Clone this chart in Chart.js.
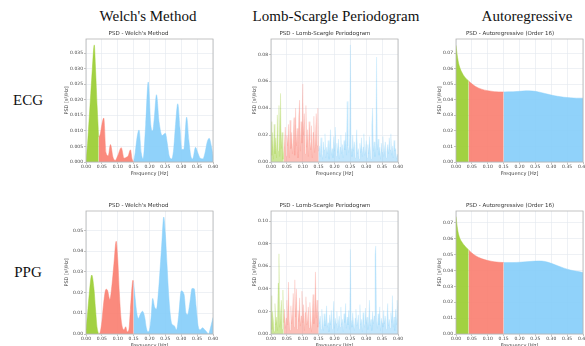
<!DOCTYPE html>
<html>
<head>
<meta charset="utf-8">
<script src="https://cdn.jsdelivr.net/npm/chart.js@4.4.0/dist/chart.umd.min.js"></script>
<style>
body{margin:0;width:585px;height:346px;overflow:hidden;background:#fff;position:relative;font-family:"Liberation Serif","Times New Roman",serif}
.head{position:absolute;font-size:15px;color:#111;transform:translate(-50%,-50%);white-space:nowrap}
canvas{position:absolute}
</style>
</head>
<body>
<div class="head" style="left:148px;top:16px">Welch's Method</div>
<div class="head" style="left:336px;top:16px">Lomb-Scargle Periodogram</div>
<div class="head" style="left:527px;top:16px">Autoregressive</div>
<div class="head" style="left:28px;top:100px">ECG</div>
<div class="head" style="left:28px;top:272px">PPG</div>

<canvas id="c1" width="155" height="147" style="left:64px;top:30px"></canvas>
<canvas id="c2" width="152" height="147" style="left:252px;top:30px"></canvas>
<canvas id="c3" width="152" height="147" style="left:437px;top:30px"></canvas>
<canvas id="c4" width="155" height="147" style="left:64px;top:202px"></canvas>
<canvas id="c5" width="152" height="147" style="left:252px;top:202px"></canvas>
<canvas id="c6" width="152" height="147" style="left:437px;top:202px"></canvas>

<script>
// frequency bands (Hz)
const bandNames = ['VLF', 'LF', 'HF'];
const bandEdges = [0, 0.04, 0.15, 0.40];

// Welch - ECG
const welchEcgFreq = [0, 0.005, 0.01, 0.015, 0.02, 0.026, 0.03, 0.035, 0.04, 0.045, 0.05, 0.056, 0.063, 0.07, 0.077, 0.085, 0.092, 0.10, 0.111, 0.12, 0.127, 0.133, 0.14, 0.145, 0.15, 0.155, 0.161, 0.167, 0.174, 0.18, 0.188, 0.196, 0.204, 0.21, 0.215, 0.222, 0.23, 0.24, 0.25, 0.256, 0.262, 0.27, 0.276, 0.282, 0.289, 0.296, 0.302, 0.308, 0.317, 0.324, 0.33, 0.336, 0.345, 0.352, 0.36, 0.368, 0.375, 0.382, 0.388, 0.395, 0.40];
const welchEcgPsd = [0.000, 0.006, 0.014, 0.022, 0.030, 0.0376, 0.030, 0.018, 0.008, 0.009, 0.012, 0.0141, 0.003, 0.002, 0.0056, 0.0015, 0.0005, 0.002, 0.0046, 0.0012, 0.0015, 0.002, 0.0039, 0.001, 0.0002, 0.003, 0.008, 0.0103, 0.003, 0.001, 0.012, 0.0257, 0.012, 0.010, 0.014, 0.0216, 0.013, 0.0085, 0.0092, 0.006, 0.002, 0.001, 0.004, 0.012, 0.0187, 0.011, 0.004, 0.004, 0.0144, 0.007, 0.002, 0.001, 0.0047, 0.003, 0.0012, 0.001, 0.003, 0.0065, 0.0076, 0.005, 0.002];

// Welch - PPG
const welchPpgFreq = [0, 0.005, 0.01, 0.018, 0.025, 0.03, 0.035, 0.04, 0.045, 0.05, 0.055, 0.063, 0.068, 0.075, 0.082, 0.088, 0.095, 0.10, 0.105, 0.11, 0.115, 0.12, 0.125, 0.13, 0.135, 0.14, 0.148, 0.15, 0.155, 0.16, 0.165, 0.171, 0.178, 0.185, 0.19, 0.195, 0.20, 0.205, 0.21, 0.216, 0.222, 0.23, 0.238, 0.245, 0.25, 0.255, 0.26, 0.265, 0.27, 0.278, 0.285, 0.292, 0.30, 0.309, 0.315, 0.32, 0.327, 0.334, 0.341, 0.347, 0.353, 0.36, 0.367, 0.374, 0.38, 0.386, 0.392, 0.40];
const welchPpgPsd = [0.002, 0.010, 0.019, 0.0285, 0.022, 0.012, 0.003, 0.000, 0.001, 0.006, 0.014, 0.0216, 0.021, 0.0167, 0.024, 0.034, 0.0448, 0.036, 0.020, 0.008, 0.003, 0.002, 0.0035, 0.001, 0.002, 0.012, 0.026, 0.025, 0.017, 0.010, 0.0075, 0.0095, 0.011, 0.008, 0.003, 0.001, 0.002, 0.008, 0.0172, 0.013, 0.012, 0.024, 0.042, 0.0565, 0.048, 0.034, 0.020, 0.010, 0.005, 0.004, 0.002, 0.009, 0.0208, 0.019, 0.010, 0.0094, 0.015, 0.022, 0.0218, 0.013, 0.004, 0.002, 0.003, 0.002, 0.001, 0.000, 0.003, 0.008];

// Lomb-Scargle sampling grid: 0 .. 0.40 Hz every 0.0025 Hz
const lombFreq = [];
for (let i = 0; i <= 160; i++) lombFreq.push(+(i * 0.0025).toFixed(4));

const lombEcgPsd = [
  0.030, 0.005, 0.022, 0.002, 0.028, 0.006, 0.018, 0.003, 0.035, 0.008, 0.042, 0.004, 0.051, 0.010, 0.022, 0.002, 0.008,
  0.015, 0.026, 0.004, 0.020, 0.012, 0.028, 0.003, 0.031, 0.010, 0.022, 0.006, 0.018, 0.033, 0.005, 0.040, 0.012, 0.025, 0.003, 0.034, 0.046, 0.008, 0.030,
  0.014, 0.058, 0.020, 0.036, 0.006, 0.042, 0.011, 0.024, 0.004, 0.030, 0.016, 0.009, 0.027, 0.003, 0.022, 0.034, 0.007, 0.019, 0.036, 0.012, 0.040, 0.008,
  0.012, 0.004, 0.018, 0.007, 0.002, 0.015, 0.009, 0.021, 0.003, 0.011,
  0.006, 0.016, 0.002, 0.013, 0.024, 0.005, 0.010, 0.003, 0.019, 0.008,
  0.026, 0.004, 0.014, 0.007, 0.017, 0.002, 0.011, 0.020, 0.006, 0.013,
  0.003, 0.016, 0.009, 0.022, 0.005, 0.045, 0.012, 0.007, 0.018, 0.087,
  0.010, 0.004, 0.020, 0.008, 0.015, 0.003, 0.012, 0.024, 0.006, 0.010,
  0.002, 0.014, 0.007, 0.018, 0.004, 0.011, 0.021, 0.005, 0.009, 0.016,
  0.003, 0.013, 0.006, 0.019, 0.010, 0.002, 0.028, 0.040, 0.008, 0.015,
  0.004, 0.012, 0.078, 0.009, 0.017, 0.005, 0.011, 0.002, 0.014, 0.007,
  0.019, 0.004, 0.010, 0.015, 0.003, 0.008, 0.013, 0.006, 0.018, 0.009,
  0.021, 0.005, 0.012, 0.003, 0.016, 0.008, 0.010, 0.002, 0.006, 0.004
];

const lombPpgPsd = [
  0.034, 0.004, 0.020, 0.012, 0.002, 0.027, 0.008, 0.015, 0.003, 0.045, 0.071, 0.006, 0.018, 0.030, 0.004, 0.039, 0.010,
  0.022, 0.005, 0.014, 0.030, 0.008, 0.046, 0.012, 0.003, 0.025, 0.009,
  0.018, 0.036, 0.006, 0.048, 0.015, 0.040, 0.004, 0.021, 0.011, 0.032,
  0.007, 0.016, 0.038, 0.010, 0.026, 0.003, 0.019, 0.033, 0.008, 0.013,
  0.024, 0.005, 0.028, 0.012, 0.002, 0.017, 0.035, 0.009, 0.021, 0.055,
  0.014, 0.030, 0.006, 0.020,
  0.009, 0.016, 0.004, 0.022, 0.011, 0.003, 0.018, 0.007, 0.013, 0.025,
  0.006, 0.010, 0.002, 0.017, 0.008, 0.021, 0.004, 0.012, 0.029, 0.005,
  0.014, 0.009, 0.020, 0.003, 0.011, 0.016, 0.006, 0.024, 0.008, 0.013,
  0.002, 0.018, 0.010, 0.027, 0.005, 0.015, 0.008, 0.021, 0.004, 0.075,
  0.012, 0.006, 0.019, 0.009, 0.003, 0.014, 0.022, 0.007, 0.011, 0.017,
  0.004, 0.026, 0.008, 0.013, 0.002, 0.019, 0.010, 0.006, 0.023, 0.009,
  0.015, 0.004, 0.011, 0.030, 0.007, 0.013, 0.003, 0.020, 0.009, 0.016,
  0.070, 0.078, 0.012, 0.005, 0.018, 0.008, 0.024, 0.003, 0.014, 0.010,
  0.006, 0.021, 0.009, 0.016, 0.004, 0.012, 0.027, 0.007, 0.013, 0.005,
  0.019, 0.010, 0.034, 0.006, 0.015, 0.003, 0.022, 0.008, 0.030, 0.011
];

// Autoregressive (order 16)
const arFreq = [0, 0.005, 0.01, 0.02, 0.03, 0.04, 0.05, 0.06, 0.08, 0.10, 0.12, 0.15, 0.18, 0.20, 0.22, 0.24, 0.26, 0.28, 0.30, 0.32, 0.34, 0.36, 0.38, 0.40];
const arEcgPsd = [0.075, 0.067, 0.062, 0.057, 0.054, 0.052, 0.0502, 0.0487, 0.0468, 0.0458, 0.0452, 0.0450, 0.0451, 0.0454, 0.0457, 0.0456, 0.0450, 0.0440, 0.0430, 0.0422, 0.0416, 0.0412, 0.0410, 0.0410];
const arPpgPsd = [0.0740, 0.066, 0.0615, 0.0575, 0.0550, 0.0530, 0.0510, 0.0495, 0.0475, 0.0463, 0.0455, 0.0450, 0.0450, 0.0452, 0.0455, 0.0458, 0.0460, 0.0457, 0.0445, 0.0430, 0.0415, 0.0403, 0.0395, 0.0388];

const bandColors = ['154,205,50', '250,128,114', '135,206,250'];
const textColor = '#444';
const gridColor = '#e3e8ee';

// box around the plot area (matplotlib style)
const framePlugin = {
  id: 'frame',
  afterDatasetsDraw(chart) {
    const { ctx, chartArea: a } = chart;
    ctx.save();
    ctx.strokeStyle = '#b5b5b5';
    ctx.lineWidth = 0.8;
    ctx.strokeRect(a.left, a.top, a.right - a.left, a.bottom - a.top);
    ctx.restore();
  }
};

function bandData(freq, psd, lo, hi) {
  const pts = [];
  freq.forEach((f, i) => {
    if (f >= lo - 1e-9 && f <= hi + 1e-9) pts.push({ x: f, y: psd[i] });
  });
  return pts;
}

function makeChart(id, title, freq, psd, yMax, yStep, yDec, yAxisW, style) {
  const lomb = style === 'lomb';
  const datasets = bandNames.map((name, b) => {
    const c = bandColors[b];
    return {
      label: name,
      data: bandData(freq, psd, bandEdges[b], bandEdges[b + 1]),
      fill: 'origin',
      backgroundColor: `rgba(${c},${lomb ? 0.5 : 0.92})`,
      borderColor: `rgba(${c},${lomb ? 0.35 : 0.92})`,
      borderWidth: lomb ? 0.5 : 0.5,
      pointRadius: 0,
      tension: lomb ? 0 : 0.4,
      cubicInterpolationMode: lomb ? 'default' : 'monotone'
    };
  });

  new Chart(document.getElementById(id), {
    type: 'line',
    data: { datasets: datasets },
    plugins: [framePlugin],
    options: {
      responsive: false,
      animation: false,
      layout: { padding: { left: 0, right: 6, top: 0, bottom: 0 } },
      plugins: {
        legend: { display: false },
        tooltip: { enabled: false },
        title: {
          display: true,
          text: title,
          color: '#333',
          font: { family: 'DejaVu Sans', size: 5.5, weight: 'normal' },
          padding: { top: 0.7, bottom: 1.7 }
        }
      },
      scales: {
        x: {
          type: 'linear',
          min: 0,
          max: 0.4,
          afterFit: (s) => { s.height = 15; },
          border: { display: false },
          grid: { color: gridColor, lineWidth: 0.6, tickLength: 2, tickColor: '#999' },
          ticks: {
            stepSize: 0.05,
            autoSkip: false,
            maxRotation: 0,
            padding: 0,
            color: textColor,
            font: { family: 'DejaVu Sans', size: 4.5 },
            callback: (v) => v.toFixed(2)
          },
          title: {
            display: true,
            text: 'Frequency [Hz]',
            color: textColor,
            padding: 0,
            font: { family: 'DejaVu Sans', size: 5 }
          }
        },
        y: {
          min: 0,
          max: yMax,
          afterFit: (s) => { s.width = yAxisW; },
          border: { display: false },
          grid: { color: gridColor, lineWidth: 0.6, tickLength: 2, tickColor: '#999' },
          ticks: {
            stepSize: yStep,
            includeBounds: false,
            autoSkip: false,
            padding: 1,
            color: textColor,
            font: { family: 'DejaVu Sans', size: 4.5 },
            callback: (v) => v.toFixed(yDec)
          },
          title: {
            display: true,
            text: 'PSD [s²/Hz]',
            color: textColor,
            padding: 0,
            font: { family: 'DejaVu Sans', size: 5 }
          }
        }
      }
    }
  });
}

makeChart('c1', "PSD - Welch's Method", welchEcgFreq, welchEcgPsd, 0.0395, 0.005, 3, 22, 'smooth');
makeChart('c2', 'PSD - Lomb-Scargle Periodogram', lombFreq, lombEcgPsd, 0.0914, 0.02, 2, 19, 'lomb');
makeChart('c3', 'PSD - Autoregressive (Order 16)', arFreq, arEcgPsd, 0.079, 0.01, 2, 19, 'smooth');
makeChart('c4', "PSD - Welch's Method", welchPpgFreq, welchPpgPsd, 0.0594, 0.01, 2, 22, 'smooth');
makeChart('c5', 'PSD - Lomb-Scargle Periodogram', lombFreq, lombPpgPsd, 0.109, 0.02, 2, 19, 'lomb');
makeChart('c6', 'PSD - Autoregressive (Order 16)', arFreq, arPpgPsd, 0.0775, 0.01, 2, 19, 'smooth');
</script>
</body>
</html>
